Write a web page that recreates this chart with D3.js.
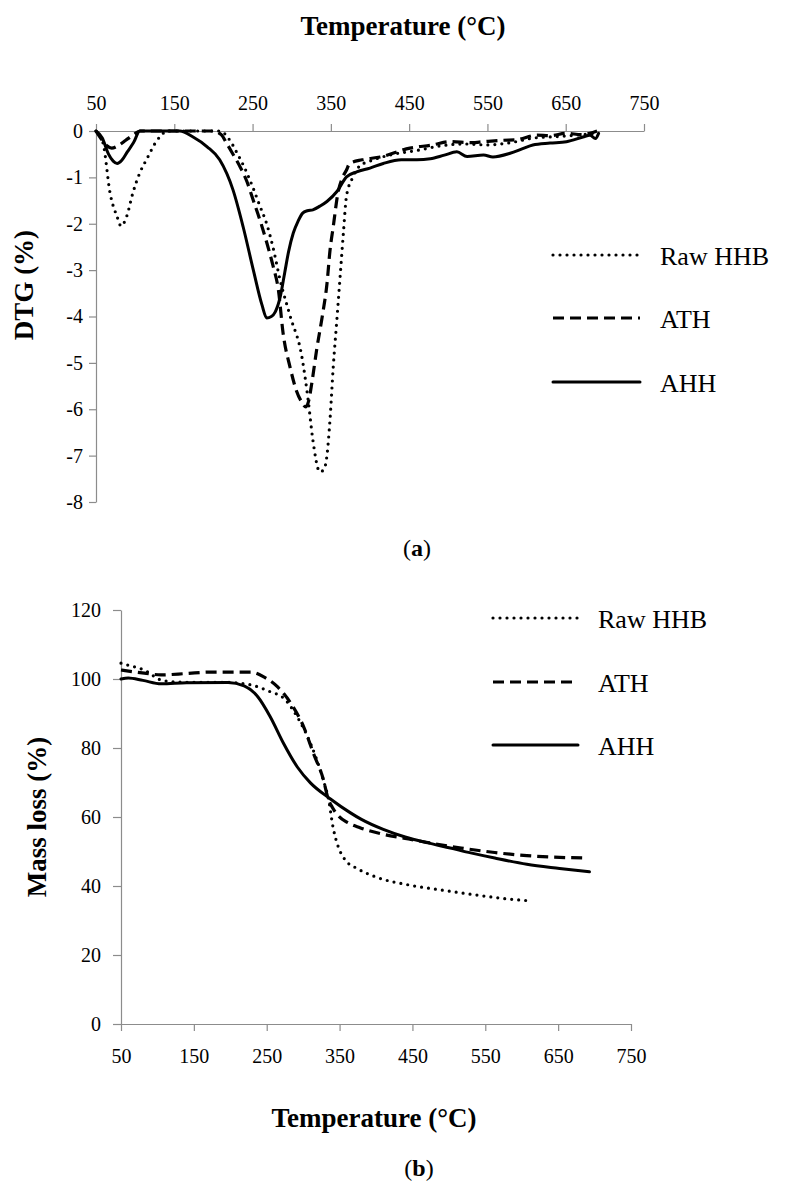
<!DOCTYPE html>
<html>
<head>
<meta charset="utf-8">
<script src="https://cdn.jsdelivr.net/npm/d3@7/dist/d3.min.js"></script>
<style>
  body { margin: 0; background: #fff; }
  svg text { font-family: "Liberation Serif", "Times New Roman", serif; }
  .axis path, .axis line { stroke: #8c8c8c; stroke-width: 1.2; }
  .axis text { font-size: 20px; fill: #000; }
  .title { font-weight: bold; font-size: 27px; }
  .legend text { font-size: 26px; }
</style>
</head>
<body>
<div id="chart"></div>
<script>
// series + ticks
const seriesNames = ["Raw HHB", "ATH", "AHH"];
const tempTicks = [50, 150, 250, 350, 450, 550, 650, 750];
const dtgTicks = [0, -1, -2, -3, -4, -5, -6, -7, -8];
const massTicks = [0, 20, 40, 60, 80, 100, 120];

// (a) DTG curves, temperature in °C, DTG in %
const rawDtgT = [50, 59, 68, 77, 82, 89, 97, 106, 115, 128, 142, 170, 208, 221, 230, 240, 250, 259, 268, 276, 285, 298, 313, 321, 327, 336, 341, 345, 349, 353, 358, 362, 366, 370, 378, 387, 400, 430, 460, 490, 520, 550, 580, 610, 640, 670, 690];
const rawDtgV = [0, -0.26, -1.34, -1.85, -2.05, -1.85, -1.34, -0.9, -0.6, -0.2, 0, 0, 0, -0.2, -0.47, -0.8, -1.2, -1.6, -2.0, -2.5, -3.2, -3.99, -4.87, -5.8, -6.66, -7.35, -7.3, -7.0, -6.2, -5.1, -4.0, -3.1, -2.2, -1.4, -1.0, -0.75, -0.65, -0.5, -0.42, -0.32, -0.28, -0.3, -0.25, -0.15, -0.12, -0.08, -0.05];

const athDtgT = [50, 58, 64, 70, 78, 88, 98, 106, 150, 200, 210, 217, 225, 234, 243, 251, 260, 268, 276, 283, 289, 298, 306, 313, 318, 322, 326, 332, 339, 345, 349, 353, 359, 365, 370, 374, 390, 413, 451, 480, 502, 530, 545, 570, 587, 613, 630, 651, 670, 681, 690];
const athDtgV = [0, -0.2, -0.32, -0.37, -0.32, -0.2, -0.08, 0, 0, 0, -0.08, -0.27, -0.5, -0.77, -1.1, -1.5, -1.95, -2.4, -2.9, -3.43, -4.36, -5.1, -5.6, -5.85, -5.95, -5.8, -5.4, -4.7, -4.0, -3.3, -2.56, -2.07, -1.34, -1.0, -0.84, -0.7, -0.62, -0.56, -0.37, -0.3, -0.23, -0.25, -0.23, -0.2, -0.19, -0.09, -0.1, -0.05, -0.08, -0.05, 0];

const ahhDtgT = [50, 58, 66, 72, 77, 83, 90, 98, 106, 157, 174, 192, 208, 225, 238, 251, 262, 268, 274, 279, 285, 291, 296, 302, 308, 314, 320, 327, 336, 345, 358, 370, 383, 400, 417, 440, 460, 477, 495, 511, 524, 545, 557, 579, 595, 608, 630, 651, 672, 681, 688, 692];
const ahhDtgV = [0, -0.15, -0.5, -0.65, -0.7, -0.63, -0.45, -0.25, 0, 0, -0.13, -0.34, -0.62, -1.27, -2.07, -3.0, -3.75, -4.03, -4.0, -3.9, -3.6, -3.06, -2.6, -2.2, -1.95, -1.77, -1.72, -1.7, -1.62, -1.52, -1.3, -0.99, -0.88, -0.8, -0.7, -0.62, -0.62, -0.6, -0.52, -0.45, -0.55, -0.52, -0.56, -0.48, -0.38, -0.3, -0.26, -0.23, -0.13, -0.09, -0.16, -0.05];

// (b) mass loss curves, %
const rawMassT = [50, 60, 82, 105, 128, 160, 197, 228, 255, 273, 292, 310, 328, 335, 341, 345, 350, 360, 373, 400, 445, 491, 537, 583, 612];
const rawMassV = [104.6, 104, 102.6, 99.7, 99.1, 99, 99, 98.3, 96.3, 94.5, 89, 81.4, 70.5, 65, 57.1, 53.5, 50.4, 47, 45.2, 42.6, 40.3, 38.8, 37.4, 36.2, 35.7];

const athMassT = [50, 82, 105, 140, 173, 228, 246, 265, 283, 301, 314, 328, 334, 340, 349, 360, 378, 410, 440, 471, 517, 563, 607, 652, 691];
const athMassV = [102.6, 101.7, 101.2, 101.6, 102, 102, 100.6, 97.7, 93, 86, 78.5, 70.7, 65.5, 62.8, 60.2, 58.5, 56.9, 55.0, 53.8, 52.6, 51.0, 49.7, 48.8, 48.3, 48.1];

const ahhMassT = [50, 60, 80, 105, 140, 197, 219, 238, 255, 273, 292, 310, 337, 365, 380, 410, 440, 471, 502, 530, 563, 607, 652, 693];
const ahhMassV = [100, 100.3, 99.6, 98.6, 98.9, 99, 98, 94.8, 89, 81.4, 74.5, 69.9, 65.3, 61.2, 59.3, 56.4, 54.2, 52.5, 51.0, 49.6, 48.1, 46.3, 45.1, 44.1];

const lineStyle = {
  "Raw HHB": { dash: "0,7", cap: "round", width: 3.2 },
  "ATH": { dash: "11,6", cap: "butt", width: 3.2 },
  "AHH": { dash: null, cap: "round", width: 3 },
};

const svg = d3.select("#chart").append("svg")
  .attr("width", 788)
  .attr("height", 1184);

function drawPanel(p) {
  const x = d3.scaleLinear().domain([50, 750]).range(p.xRange);
  const y = d3.scaleLinear().domain(p.yDomain).range(p.yRange);
  const g = svg.append("g");

  // axes
  const xAxis = p.xTop ? d3.axisTop(x) : d3.axisBottom(x);
  g.append("g")
    .attr("class", "axis")
    .attr("transform", `translate(0,${p.xAxisY})`)
    .call(xAxis.tickValues(tempTicks).tickSize(7).tickSizeOuter(0).tickPadding(p.xPad))
    .attr("font-family", null);

  g.append("g")
    .attr("class", "axis")
    .attr("transform", `translate(${p.xRange[0]},0)`)
    .call(d3.axisLeft(y).tickValues(p.yTicks).tickSize(p.yTickSize).tickSizeOuter(0)
      .tickPadding(p.yPad).tickFormat((d) => String(d)))
    .attr("font-family", null);

  // curves
  const line = d3.line()
    .x((d) => x(d[0]))
    .y((d) => y(d[1]))
    .curve(d3.curveMonotoneX);

  p.series.forEach((s) => {
    const st = lineStyle[s.name];
    g.append("path")
      .datum(d3.zip(s.t, s.v))
      .attr("d", line)
      .attr("fill", "none")
      .attr("stroke", "#000")
      .attr("stroke-width", st.width)
      .attr("stroke-linecap", st.cap)
      .attr("stroke-linejoin", "round")
      .attr("stroke-dasharray", st.dash);
  });

  // legend
  const leg = g.append("g").attr("class", "legend");
  seriesNames.forEach((name, i) => {
    const st = lineStyle[name];
    const ly = p.legendY[i];
    leg.append("line")
      .attr("x1", p.legendX[0]).attr("x2", p.legendX[1])
      .attr("y1", ly).attr("y2", ly)
      .attr("stroke", "#000")
      .attr("stroke-width", st.width)
      .attr("stroke-linecap", st.cap)
      .attr("stroke-dasharray", st.dash);
    leg.append("text")
      .attr("x", p.legendX[1] + 20)
      .attr("y", ly + 10)
      .text(name);
  });

  // titles
  g.append("text")
    .attr("class", "title")
    .attr("text-anchor", "middle")
    .attr("x", p.xTitle[0]).attr("y", p.xTitle[1])
    .text("Temperature (°C)");

  g.append("text")
    .attr("class", "title")
    .attr("text-anchor", "middle")
    .attr("transform", `translate(${p.yTitle[0]},${p.yTitle[1]}) rotate(-90)`)
    .text(p.yLabel);

  const cap = g.append("text")
    .attr("text-anchor", "middle")
    .attr("x", p.caption[0]).attr("y", p.caption[1])
    .style("font-size", "24px");
  cap.append("tspan").text("(");
  cap.append("tspan").style("font-weight", "bold").text(p.letter);
  cap.append("tspan").text(")");
}

drawPanel({
  xRange: [96, 644],
  yDomain: [-8, 0],
  yRange: [502, 131],
  xTop: true,
  xAxisY: 131,
  xPad: 14,
  yTicks: dtgTicks,
  yTickSize: 7,
  yPad: 6,
  series: [
    { name: "Raw HHB", t: rawDtgT, v: rawDtgV },
    { name: "ATH", t: athDtgT, v: athDtgV },
    { name: "AHH", t: ahhDtgT, v: ahhDtgV },
  ],
  legendX: [553, 640],
  legendY: [255, 318, 382],
  xTitle: [403, 35],
  yTitle: [33, 285],
  yLabel: "DTG (%)",
  caption: [417, 556],
  letter: "a",
});

drawPanel({
  xRange: [121, 631],
  yDomain: [0, 120],
  yRange: [1024, 610],
  xTop: false,
  xAxisY: 1024,
  xPad: 18,
  yTicks: massTicks,
  yTickSize: 8,
  yPad: 12,
  series: [
    { name: "Raw HHB", t: rawMassT, v: rawMassV },
    { name: "ATH", t: athMassT, v: athMassV },
    { name: "AHH", t: ahhMassT, v: ahhMassV },
  ],
  legendX: [493, 578],
  legendY: [618, 682, 745],
  xTitle: [374, 1127],
  yTitle: [46, 817],
  yLabel: "Mass loss (%)",
  caption: [419, 1176],
  letter: "b",
});
</script>
</body>
</html>
